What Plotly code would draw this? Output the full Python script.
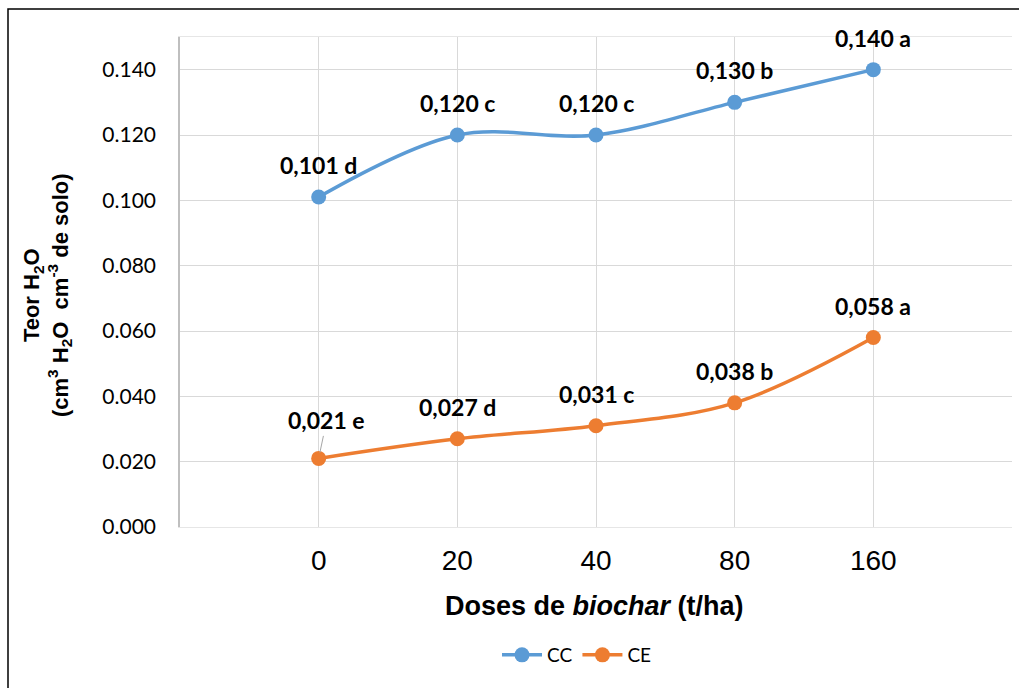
import plotly.graph_objects as go

# Doses of biochar (t/ha) and water content for the two conditions
doses = ["0", "20", "40", "80", "160"]
cc_values = [0.101, 0.120, 0.120, 0.130, 0.140]
ce_values = [0.021, 0.027, 0.031, 0.038, 0.058]
cc_letters = ["d", "c", "c", "b", "a"]
ce_letters = ["e", "d", "c", "b", "a"]
y_ticks = [0.000, 0.020, 0.040, 0.060, 0.080, 0.100, 0.120, 0.140]

BLUE = "#5B9BD5"
ORANGE = "#ED7D31"
LABEL_FONT = dict(family="Lato, Open Sans, sans-serif", size=23, color="#000000")

W, H = 1019, 688
ML, MR, MT, MB = 180, 7, 37, 161
PW, PH = W - ML - MR, H - MT - MB


def px_x(p):
    return (p - ML) / PW


def px_y(p):
    return (H - MB - p) / PH


fig = go.Figure()
fig.add_trace(go.Scatter(
    x=doses, y=cc_values, name="CC", mode="lines+markers",
    line=dict(color=BLUE, width=3.5, shape="spline", smoothing=1.0),
    marker=dict(color=BLUE, size=15),
))
fig.add_trace(go.Scatter(
    x=doses, y=ce_values, name="CE", mode="lines+markers",
    line=dict(color=ORANGE, width=3.5, shape="spline", smoothing=1.0),
    marker=dict(color=ORANGE, size=15),
))


def fmt(v, letter):
    return f"{v:.3f}".replace(".", ",") + " " + letter


# on a category axis annotations are placed by category index
annotations = []
for i, (v, l) in enumerate(zip(cc_values, cc_letters)):
    annotations.append(dict(x=i, y=v, xref="x", yref="y", text=f"<b>{fmt(v, l)}</b>",
                            showarrow=False, yshift=32, font=LABEL_FONT))
for i, (v, l) in enumerate(zip(ce_values, ce_letters)):
    if i == 0:
        # first label sits off to the side with a short leader line
        annotations.append(dict(x=i, y=v, xref="x", yref="y", text=f"<b>{fmt(v, l)}</b>",
                                showarrow=True, arrowhead=0, arrowwidth=1, arrowcolor="#a6a6a6",
                                ax=8, ay=-38, standoff=6, font=LABEL_FONT))
    else:
        annotations.append(dict(x=i, y=v, xref="x", yref="y", text=f"<b>{fmt(v, l)}</b>",
                                showarrow=False, yshift=32, font=LABEL_FONT))

# axis titles
annotations.append(dict(
    x=px_x(47), y=px_y(295), xref="paper", yref="paper", textangle=-90,
    text="<b>Teor H<sub>2</sub>O<br>(cm<sup>3</sup> H<sub>2</sub>O  cm<sup>-3</sup> de solo)</b>",
    showarrow=False, xanchor="center", yanchor="middle",
    font=dict(family="Liberation Sans, Arial, sans-serif", size=22, color="#000000"),
))
annotations.append(dict(
    x=px_x(594), y=px_y(606), xref="paper", yref="paper",
    text="<b>Doses de <i>biochar</i> (t/ha)</b>",
    showarrow=False, xanchor="center", yanchor="middle",
    font=dict(family="Liberation Sans Narrow, Liberation Sans, Arial, sans-serif", size=27, color="#000000"),
))

fig.update_layout(
    width=W, height=H,
    margin=dict(l=ML, r=MR, t=MT, b=MB),
    paper_bgcolor="white", plot_bgcolor="white",
    showlegend=True,
    legend=dict(orientation="h", x=px_x(577), y=px_y(655), xanchor="center", yanchor="middle",
                font=dict(family="Lato, Open Sans, sans-serif", size=19, color="#000000"),
                itemwidth=40, tracegroupgap=0),
    annotations=annotations,
    shapes=[dict(type="rect", xref="paper", yref="paper",
                 x0=px_x(8), x1=px_x(1040), y0=px_y(710), y1=px_y(9),
                 line=dict(color="#000000", width=1.5), fillcolor="rgba(0,0,0,0)", layer="above")],
)

fig.update_xaxes(
    type="category", categoryorder="array", categoryarray=doses,
    range=[-1, 5], showgrid=True, gridcolor="#d9d9d9", gridwidth=1,
    showline=True, linecolor="#e6e6e6", linewidth=1, mirror=True,
    ticks="", ticklabelstandoff=8, zeroline=False,
    tickfont=dict(family="Liberation Sans Narrow, Liberation Sans, Arial, sans-serif", size=28, color="#000000"),
)
fig.update_yaxes(
    range=[0, 0.15], tickvals=y_ticks, tickformat=".3f",
    showgrid=True, gridcolor="#d9d9d9", gridwidth=1,
    showline=True, linecolor="#bfbfbf", linewidth=1.5,
    ticks="", ticklabelstandoff=18, zeroline=False,
    tickfont=dict(family="Lato, Open Sans, sans-serif", size=21, color="#000000"),
)

fig.write_html("out.html")
